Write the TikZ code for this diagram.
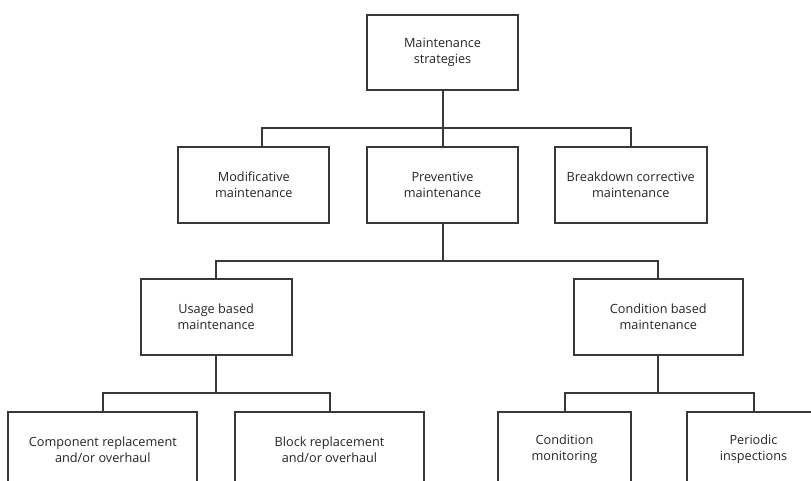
\documentclass[tikz,border=0pt]{standalone}
\usepackage{fontspec}
\setmainfont{Open Sans}
\definecolor{linec}{HTML}{383838}
\definecolor{textc}{HTML}{262626}
\tikzset{
  box/.style={draw=linec, line width=2pt, rectangle, fill=white, align=center,
    text=textc, font=\fontsize{12.7}{16}\selectfont, inner sep=0pt},
  conn/.style={draw=linec, line width=2pt},
}
\begin{document}
\begin{tikzpicture}[x=1pt, y=-1pt]
\useasboundingbox (0,0) rectangle (811,480);
\clip (0,0) rectangle (811,480);
\fill[white] (0,0) rectangle (811,480);
% level 0
\node[box, minimum width=151.5pt, minimum height=75pt] (top) at (442.5,52.5) {Maintenance\\strategies};
% level 1
\node[box, minimum width=151pt, minimum height=76pt] (mod) at (253.8,184.7) {Modificative\\maintenance};
\node[box, minimum width=151.5pt, minimum height=76pt] (prev) at (442.5,184.7) {Preventive\\maintenance};
\node[box, minimum width=151.5pt, minimum height=76pt] (brk) at (630.8,184.7) {Breakdown corrective\\maintenance};
% level 2
\node[box, minimum width=151pt, minimum height=75.7pt] (usage) at (216.2,317.2) {Usage based\\maintenance};
\node[box, minimum width=169.5pt, minimum height=75.7pt] (cond) at (658.3,317.2) {Condition based\\maintenance};
% level 3
\node[box, minimum width=189pt, minimum height=76pt] (comp) at (102.8,449.5) {Component replacement\\and/or overhaul};
\node[box, minimum width=189pt, minimum height=76pt] (block) at (329.5,449.5) {Block replacement\\and/or overhaul};
\node[box, minimum width=132.5pt, minimum height=76pt] (cm) at (564.5,449.5) {Condition\\monitoring};
\node[box, minimum width=132.5pt, minimum height=76pt] (per) at (753.5,449.5) {Periodic\\inspections};
% bars
\coordinate (b1) at (0,128.3);
\coordinate (b2) at (0,260.7);
\coordinate (b3) at (0,392.7);
% connectors level 0-1
\draw[conn] (top.south) -- (prev.north);
\draw[conn] ([xshift=8.5pt]mod.north) |- (top.south |- b1) -| (brk.north);
% connectors level 1-2
\draw[conn] (prev.south) -- (prev.south |- b2);
\draw[conn] (usage.north) |- (prev.south |- b2) -| (cond.north);
% connectors level 2-3
\draw[conn] (usage.south) -- (usage.south |- b3);
\draw[conn] (comp.north) |- (usage.south |- b3) -| (block.north);
\draw[conn] (cond.south) -- (cond.south |- b3);
\draw[conn] (cm.north) |- (cond.south |- b3) -| (per.north);
\end{tikzpicture}
\end{document}
